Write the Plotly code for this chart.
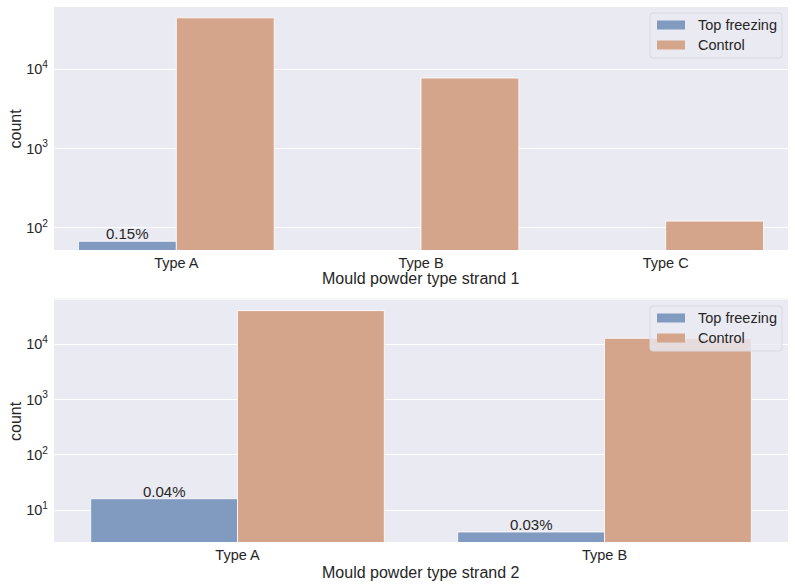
import math
import plotly.graph_objects as go

# ---- data ----
cats1 = ["Type A", "Type B", "Type C"]
top1 = [68, None, None]
ctrl1 = [44000, 7700, 122]
pct1 = ["0.15%", None, None]

cats2 = ["Type A", "Type B"]
top2 = [16, 4]
ctrl2 = [40500, 12800]
pct2 = ["0.04%", "0.03%"]

series_names = ["Top freezing", "Control"]
xtitle1 = "Mould powder type strand 1"
xtitle2 = "Mould powder type strand 2"
ytitle = "count"

BLUE = "#819AC0"
ORANGE = "#D4A58A"
BG = "#EAEAF2"
FONT = "Liberation Sans, Arial, sans-serif"
TXT = "#262626"
colors = [BLUE, ORANGE]

W, H = 795, 586
def px_x(p):
    return p / W
def px_y(p):
    return 1 - p / H

fig = go.Figure()

for vals_list, xa, ya, cats in [((top1, ctrl1), "x", "y", cats1), ((top2, ctrl2), "x2", "y2", cats2)]:
    for name, vals, col in zip(series_names, vals_list, colors):
        fig.add_trace(go.Bar(x=cats, y=vals, name=name, marker_color=col,
                             marker_line_color="white", marker_line_width=0.8,
                             xaxis=xa, yaxis=ya, showlegend=False))

annotations = []
group_w = 0.8
off = -group_w / 4
for cats, vals, labels, xr, yr in [(cats1, top1, pct1, "x", "y"), (cats2, top2, pct2, "x2", "y2")]:
    for i, (v, lab) in enumerate(zip(vals, labels)):
        if v is None or lab is None:
            continue
        annotations.append(dict(x=i + off, y=math.log10(v), xref=xr, yref=yr, text=lab,
                                showarrow=False, yanchor="bottom", yshift=-3,
                                font=dict(size=15, color=TXT, family=FONT)))

# axis titles as annotations
x0, x1 = 54, 788
annotations += [
    dict(x=px_x((x0 + x1) / 2), y=px_y(278), xref="paper", yref="paper", text=xtitle1,
         showarrow=False, font=dict(size=16, color=TXT, family=FONT), xanchor="center", yanchor="middle"),
    dict(x=px_x((x0 + x1) / 2), y=px_y(572), xref="paper", yref="paper", text=xtitle2,
         showarrow=False, font=dict(size=16, color=TXT, family=FONT), xanchor="center", yanchor="middle"),
    dict(x=px_x(15), y=px_y(128.5), xref="paper", yref="paper", text=ytitle, textangle=-90,
         showarrow=False, font=dict(size=16, color=TXT, family=FONT), xanchor="center", yanchor="middle"),
    dict(x=px_x(15), y=px_y(421), xref="paper", yref="paper", text=ytitle, textangle=-90,
         showarrow=False, font=dict(size=16, color=TXT, family=FONT), xanchor="center", yanchor="middle"),
]

shapes = [dict(type="line", xref="paper", yref="paper", x0=px_x(x0), x1=px_x(x1),
               y0=px_y(299), y1=px_y(299), line=dict(color="#EDEDED", width=1))]

# custom legends (seaborn-style wide swatches)
def add_legend(top):
    lx0, lx1, ly0, ly1 = 650, 782, top, top + 45
    r = 3
    path = (f"M {px_x(lx0 + r)},{px_y(ly0)} L {px_x(lx1 - r)},{px_y(ly0)} "
            f"Q {px_x(lx1)},{px_y(ly0)} {px_x(lx1)},{px_y(ly0 + r)} "
            f"L {px_x(lx1)},{px_y(ly1 - r)} Q {px_x(lx1)},{px_y(ly1)} {px_x(lx1 - r)},{px_y(ly1)} "
            f"L {px_x(lx0 + r)},{px_y(ly1)} Q {px_x(lx0)},{px_y(ly1)} {px_x(lx0)},{px_y(ly1 - r)} "
            f"L {px_x(lx0)},{px_y(ly0 + r)} Q {px_x(lx0)},{px_y(ly0)} {px_x(lx0 + r)},{px_y(ly0)} Z")
    shapes.append(dict(type="path", xref="paper", yref="paper", path=path,
                       fillcolor="rgba(234,234,242,0.8)", line=dict(color="#D9D9E1", width=1),
                       layer="above"))
    for k, (name, col) in enumerate(zip(series_names, colors)):
        cy = top + 12 + 20 * k
        shapes.append(dict(type="rect", xref="paper", yref="paper",
                           x0=px_x(657), x1=px_x(685), y0=px_y(cy - 4.5), y1=px_y(cy + 4.5),
                           fillcolor=col, line=dict(width=0), layer="above"))
        annotations.append(dict(x=px_x(696), y=px_y(cy), xref="paper", yref="paper", text=name,
                                showarrow=False, xanchor="left", yanchor="middle",
                                font=dict(size=14.5, color=TXT, family=FONT)))

add_legend(13)
add_legend(306)

def yaxis(dom, rng, tvals, anchor):
    return dict(domain=dom, anchor=anchor, type="log", range=rng, tickvals=tvals,
                ticktext=["10<sup>%d</sup>" % round(math.log10(t)) for t in tvals],
                showgrid=True, gridcolor="white", gridwidth=1, zeroline=False,
                showline=False, ticks="", ticklabelstandoff=5,
                tickfont=dict(size=14.5, color=TXT, family=FONT))

def xaxis(dom, anchor, n):
    return dict(domain=dom, anchor=anchor, type="category", range=[-0.5, n - 0.5],
                showgrid=False, zeroline=False, showline=False, ticks="",
                ticklabelstandoff=2,
                tickfont=dict(size=14.5, color=TXT, family=FONT))

fig.update_layout(
    width=W, height=H, margin=dict(l=0, r=0, t=0, b=0),
    paper_bgcolor="white", plot_bgcolor=BG,
    barmode="group", bargap=0.2, bargroupgap=0,
    font=dict(family=FONT, color=TXT),
    xaxis=xaxis([px_x(x0), px_x(x1)], "y", len(cats1)),
    yaxis=yaxis([px_y(250), px_y(7)], [1.723, 4.78], [100, 1000, 10000], "x"),
    xaxis2=xaxis([px_x(x0), px_x(x1)], "y2", len(cats2)),
    yaxis2=yaxis([px_y(542), px_y(300)], [0.421, 4.80], [10, 100, 1000, 10000], "x2"),
    annotations=annotations,
    shapes=shapes,
    showlegend=False,
)

fig.write_html("out.html")
